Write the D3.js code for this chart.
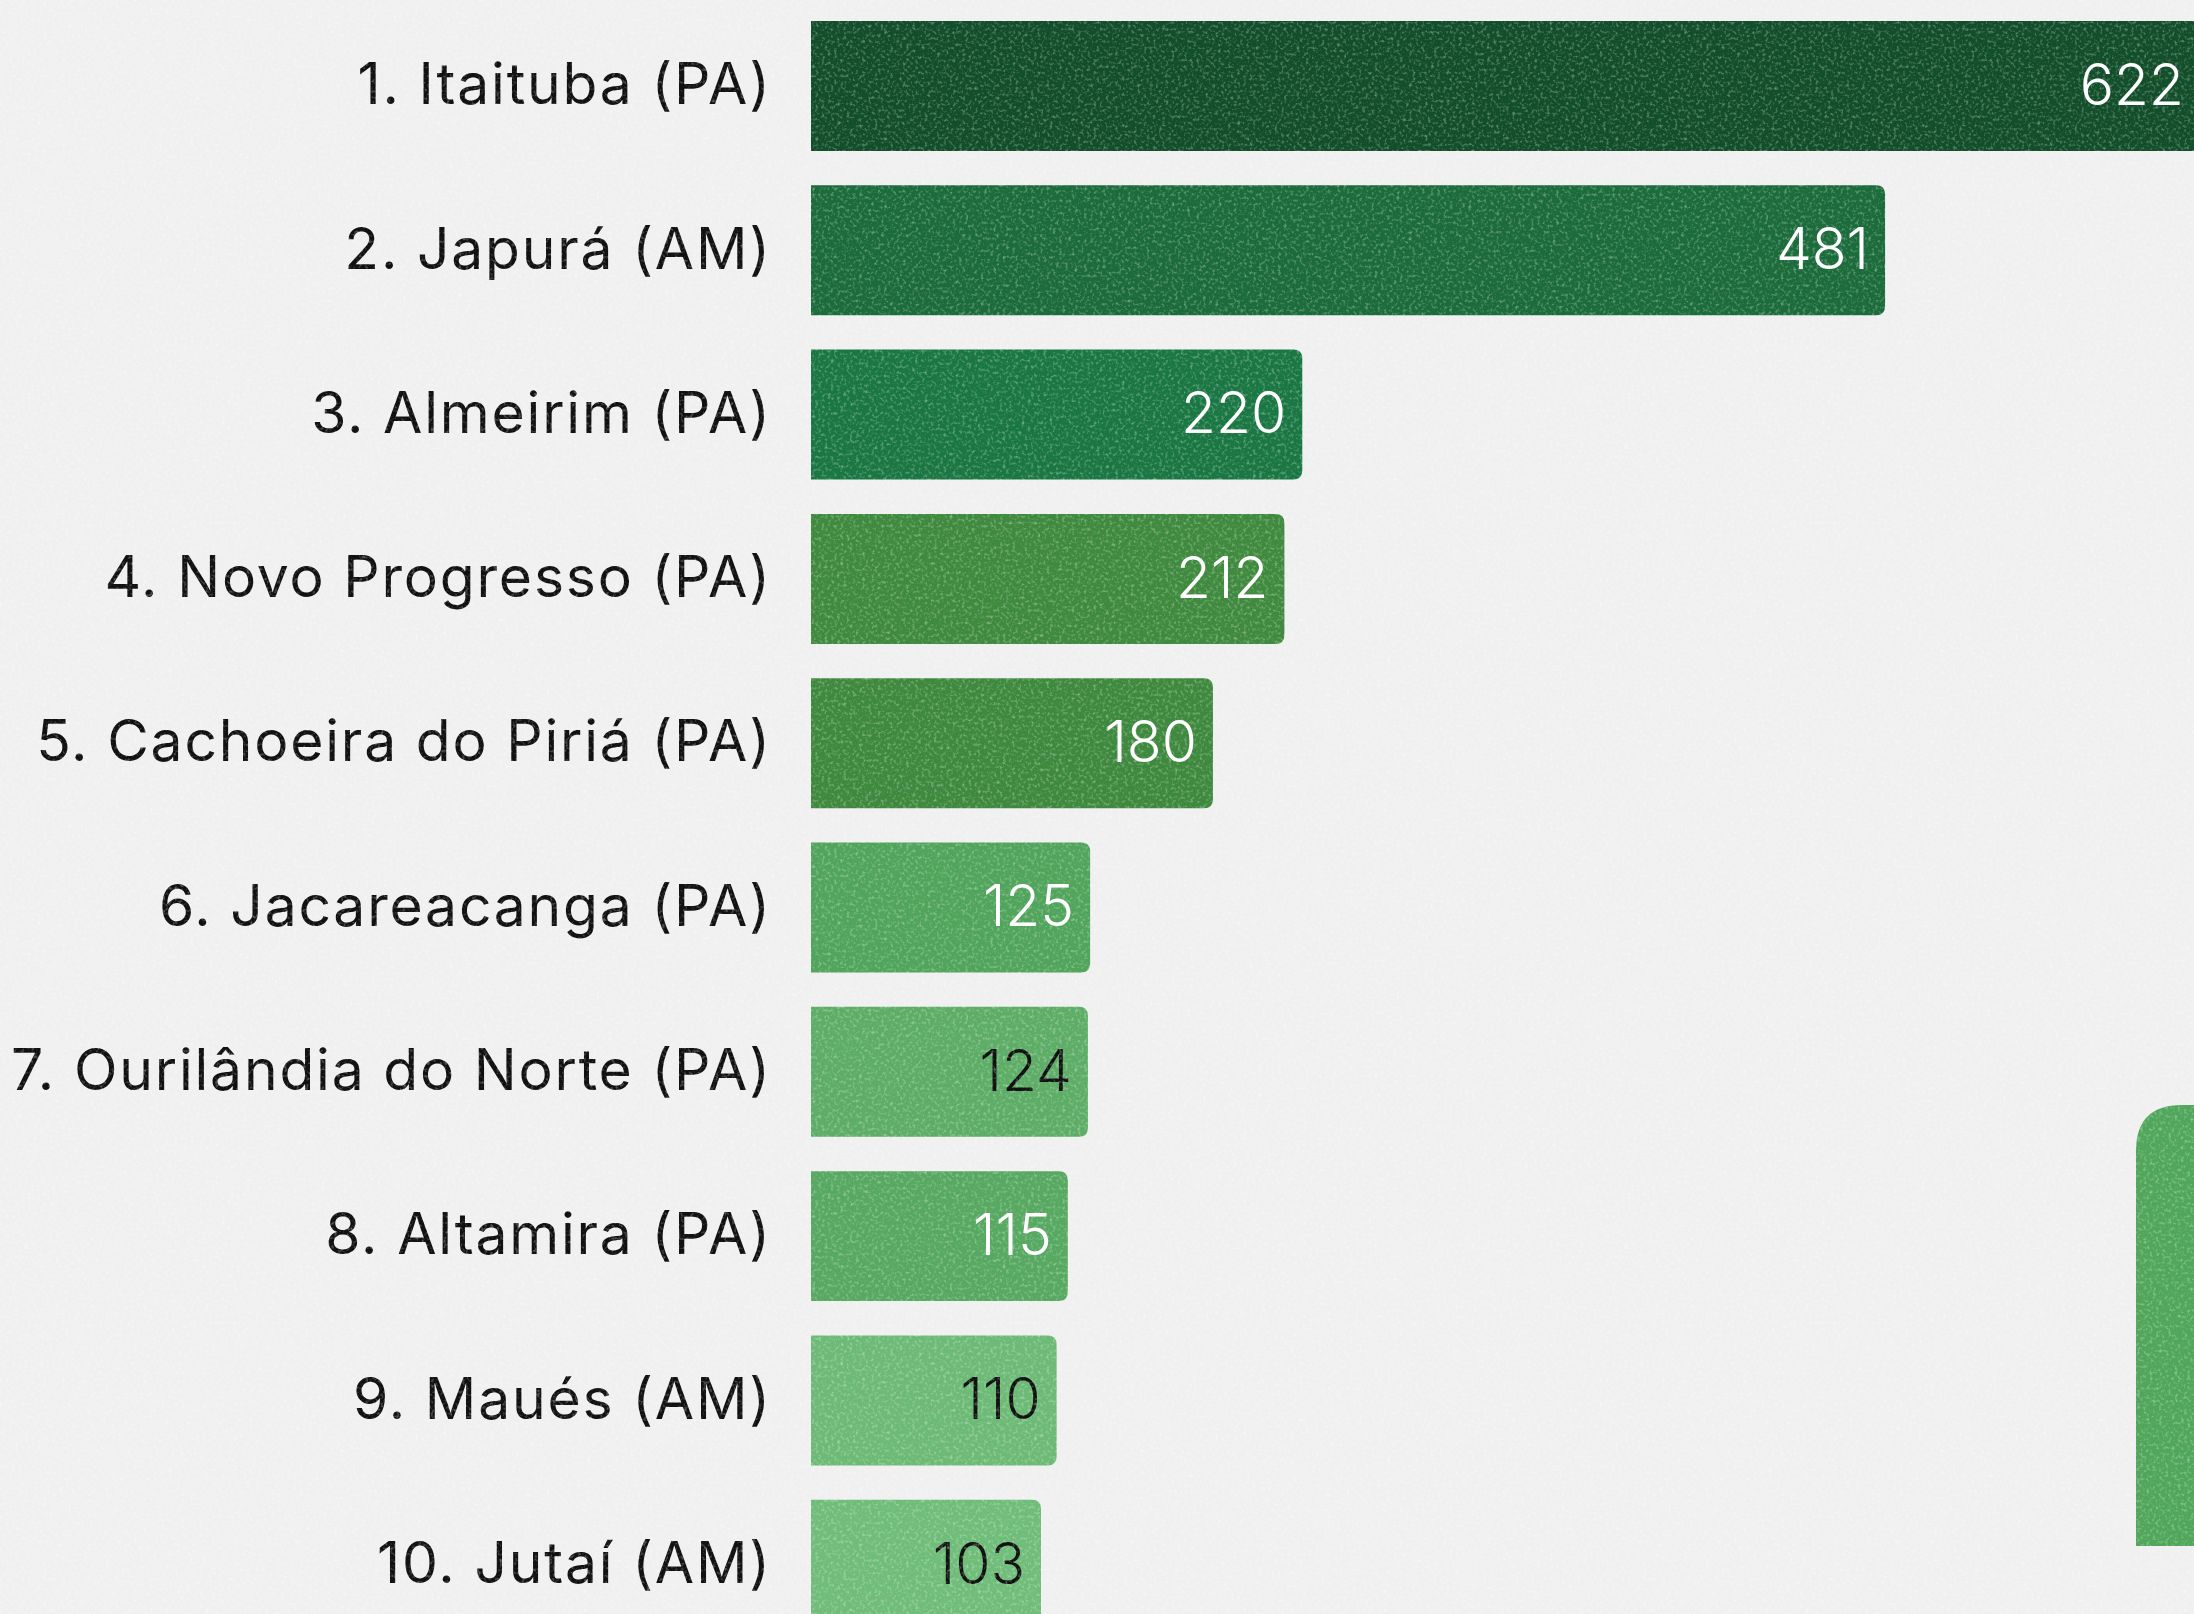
<!DOCTYPE html>
<html>
<head>
<meta charset="utf-8">
<script src="https://cdnjs.cloudflare.com/ajax/libs/d3/7.8.5/d3.min.js"></script>
<style>
  html, body { margin: 0; padding: 0; background: #f1f1f1; overflow: hidden; }
  svg { display: block; }
</style>
</head>
<body>
<div id="chart"></div>
<script>
// ranking of municipalities
var cities = ["1. Itaituba (PA)", "2. Japurá (AM)", "3. Almeirim (PA)", "4. Novo Progresso (PA)",
	"5. Cachoeira do Piriá (PA)", "6. Jacareacanga (PA)", "7. Ourilândia do Norte (PA)",
	"8. Altamira (PA)", "9. Maués (AM)", "10. Jutaí (AM)"];
var values = [622, 481, 220, 212, 180, 125, 124, 115, 110, 103];

// bar shades, darkest first
var barColors = ["#124e2a", "#1b6b3b", "#1a7743", "#408a3f", "#3f893f",
	"#51a45b", "#5dad67", "#57a861", "#6dba76", "#6fbd79"];

var width = 2194, height = 1614;
var left = 811;
var spacing = 1.8;

var svg = d3.select("#chart")
	.append("svg")
	.attr("width", width)
	.attr("height", height);

// paper-like speckle texture
var defs = svg.append("defs");
var noise = defs.append("filter").attr("id", "speckle")
	.attr("x", 0).attr("y", 0).attr("width", "100%").attr("height", "100%");
noise.append("feTurbulence")
	.attr("type", "fractalNoise")
	.attr("baseFrequency", 0.32)
	.attr("numOctaves", 2)
	.attr("seed", 3);
noise.append("feColorMatrix")
	.attr("type", "matrix")
	.attr("values", "0 0 0 0 1  0 0 0 0 1  0 0 0 0 1  0 0 0 2.4 -1.2");

svg.append("rect")
	.attr("width", width).attr("height", height)
	.attr("fill", "#f0f0f0");

var x = d3.scaleLinear()
	.domain([0, 622])
	.range([left, left + 622 * 2.233]);

var y = d3.scaleBand()
	.domain(cities)
	.range([21, 21 + 9 * 164.3 + 130])
	.paddingInner(0.209)
	.paddingOuter(0);

var r = 9;
function barPath(d, i) {
	var x0 = x(0), x1 = x(values[i]), y0 = y(d), h = y.bandwidth();
	return "M" + x0 + "," + y0 +
		"H" + (x1 - r) +
		"Q" + x1 + "," + y0 + " " + x1 + "," + (y0 + r) +
		"V" + (y0 + h - r) +
		"Q" + x1 + "," + (y0 + h) + " " + (x1 - r) + "," + (y0 + h) +
		"H" + x0 + "Z";
}

svg.selectAll(".bar")
	.data(cities)
	.enter().append("path")
	.attr("class", "bar")
	.attr("d", barPath)
	.attr("fill", function(d, i) { return barColors[i]; });

// partly visible green block at the lower right edge
var rb = 46, bx = 2136, by = 1105, bb = 1546;
svg.append("path")
	.attr("d", "M" + bx + "," + bb + "V" + (by + rb) +
		"Q" + bx + "," + by + " " + (bx + rb) + "," + by +
		"H" + (width + 10) + "V" + bb + "Z")
	.attr("fill", "#50a65b");

svg.selectAll(".city")
	.data(cities)
	.enter().append("text")
	.attr("class", "city")
	.attr("x", left - 41 + spacing)
	.attr("y", function(d) { return y(d) + y.bandwidth() / 2; })
	.attr("dy", "0.32em")
	.attr("text-anchor", "end")
	.style("font-family", "Inter, 'Noto Sans', sans-serif")
	.style("font-size", "57px")
	.style("font-weight", 400)
	.style("letter-spacing", spacing + "px")
	.style("fill", "#111")
	.text(function(d) { return d; });

svg.selectAll(".val")
	.data(cities)
	.enter().append("text")
	.attr("class", "val")
	.attr("x", function(d, i) { return x(values[i]) - 16; })
	.attr("y", function(d) { return y(d) + y.bandwidth() / 2; })
	.attr("dy", "0.33em")
	.attr("text-anchor", "end")
	.style("font-family", "Inter, 'Noto Sans', sans-serif")
	.style("font-size", "57px")
	.style("font-weight", 300)
	.style("fill", function(d, i) { return d3.hsl(barColors[i]).l > 0.5 ? "#111" : "#fff"; })
	.text(function(d, i) { return values[i]; });

svg.append("rect")
	.attr("width", width).attr("height", height)
	.attr("filter", "url(#speckle)")
	.attr("opacity", 0.4)
	.style("pointer-events", "none");
</script>
</body>
</html>
